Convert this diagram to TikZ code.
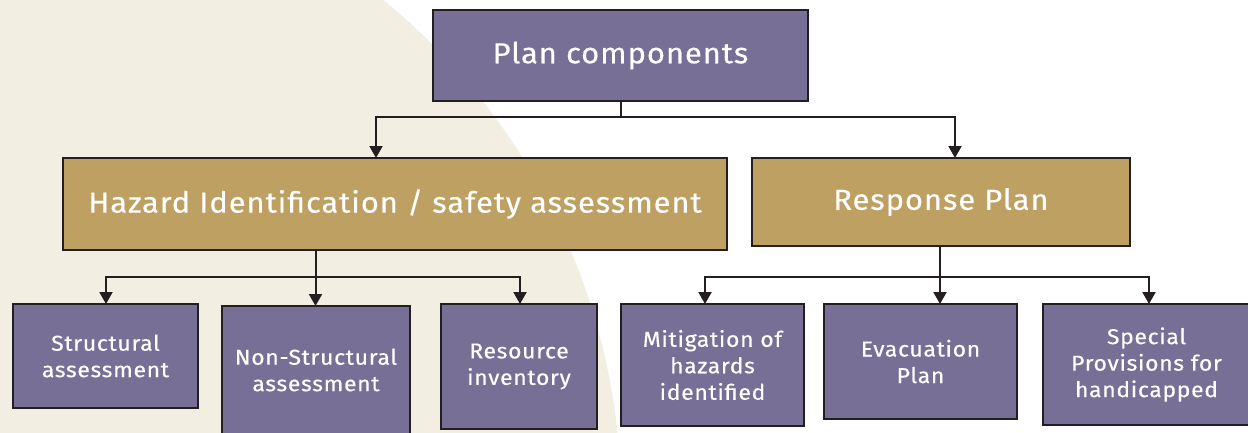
\documentclass[tikz,border=0pt]{standalone}
\usepackage{fontspec}
\setmainfont{Fira Sans}[LetterSpace=3,FakeStretch=1.07,FakeBold=0.3]
\usetikzlibrary{arrows.meta}
\definecolor{purp}{RGB}{120,111,150}
\definecolor{gold}{RGB}{191,160,99}
\definecolor{cream}{RGB}{242,238,226}
\definecolor{edge}{RGB}{35,31,32}
\tikzset{
  box/.style={draw=edge, line width=2pt, text=white, align=center, inner sep=0pt, outer sep=0pt},
  pbox/.style={box, fill=purp},
  gbox/.style={box, fill=gold},
  big/.style={font=\fontsize{29}{34}\selectfont},
  small/.style={font=\fontsize{21.5}{26.5}\selectfont},
  conn/.style={draw=edge, line width=2pt},
  arr/.style={conn, -{Triangle[width=13pt,length=12pt]}}
}
\begin{document}
\begin{tikzpicture}[x=1pt,y=-1pt]
\useasboundingbox (0,0) rectangle (1248,432);
\clip (0,0) rectangle (1248,432);
\fill[white] (0,0) rectangle (1248,432);
\fill[cream] (-26,501) circle[radius=647];
% boxes
\node[pbox, big, minimum width=375pt, minimum height=91pt] (top) at (620.5,55.5) {Plan components};
\node[gbox, big, minimum width=664pt, minimum height=92pt] (haz) at (395,204) {Hazard Identification / safety assessment};
\node[gbox, big, minimum width=378pt, minimum height=88pt] (resp) at (941,202) {Response Plan};
\node[pbox, small, minimum width=185pt, minimum height=104pt] (s1) at (105.5,356) {Structural\\assessment};
\node[pbox, small, minimum width=188pt, minimum height=128pt] (s2) at (316,370) {Non-Structural\\assessment};
\node[pbox, small, minimum width=156pt, minimum height=125pt] (s3) at (519,366.5) {Resource\\inventory};
\node[pbox, small, minimum width=183pt, minimum height=122pt] (r1) at (712.5,365) {Mitigation of\\hazards\\identified};
\node[pbox, small, minimum width=193pt, minimum height=115pt] (r2) at (920.5,361.5) {Evacuation\\Plan};
\node[pbox, small, minimum width=207pt, minimum height=121pt] (r3) at (1146.5,364.5) {Special\\Provisions for\\handicapped};
% connector points
\coordinate (j0) at (621,117);
\coordinate (x1) at (376,0);
\coordinate (x2) at (955,0);
\coordinate (hs) at (315.5,0);
\coordinate (j1) at (315.5,277);
\coordinate (a1) at (106,0);
\coordinate (a2) at (315.5,0);
\coordinate (a3) at (520,0);
\coordinate (j2) at (940,277);
\coordinate (b1) at (705,0);
\coordinate (b2) at (940,0);
\coordinate (b3) at (1149,0);
% connectors
\draw[conn] (top.south -| j0) -- (j0);
\draw[arr] (j0) -| (x1 |- haz.north);
\draw[arr] (j0) -| (x2 |- resp.north);
\draw[conn] (hs |- haz.south) -- (j1);
\draw[arr] (j1) -| (a1 |- s1.north);
\draw[arr] (j1) -- (a2 |- s2.north);
\draw[arr] (j1) -| (a3 |- s3.north);
\draw[conn] (resp.south -| j2) -- (j2);
\draw[arr] (j2) -| (b1 |- r1.north);
\draw[arr] (j2) -- (b2 |- r2.north);
\draw[arr] (j2) -| (b3 |- r3.north);
\end{tikzpicture}
\end{document}
